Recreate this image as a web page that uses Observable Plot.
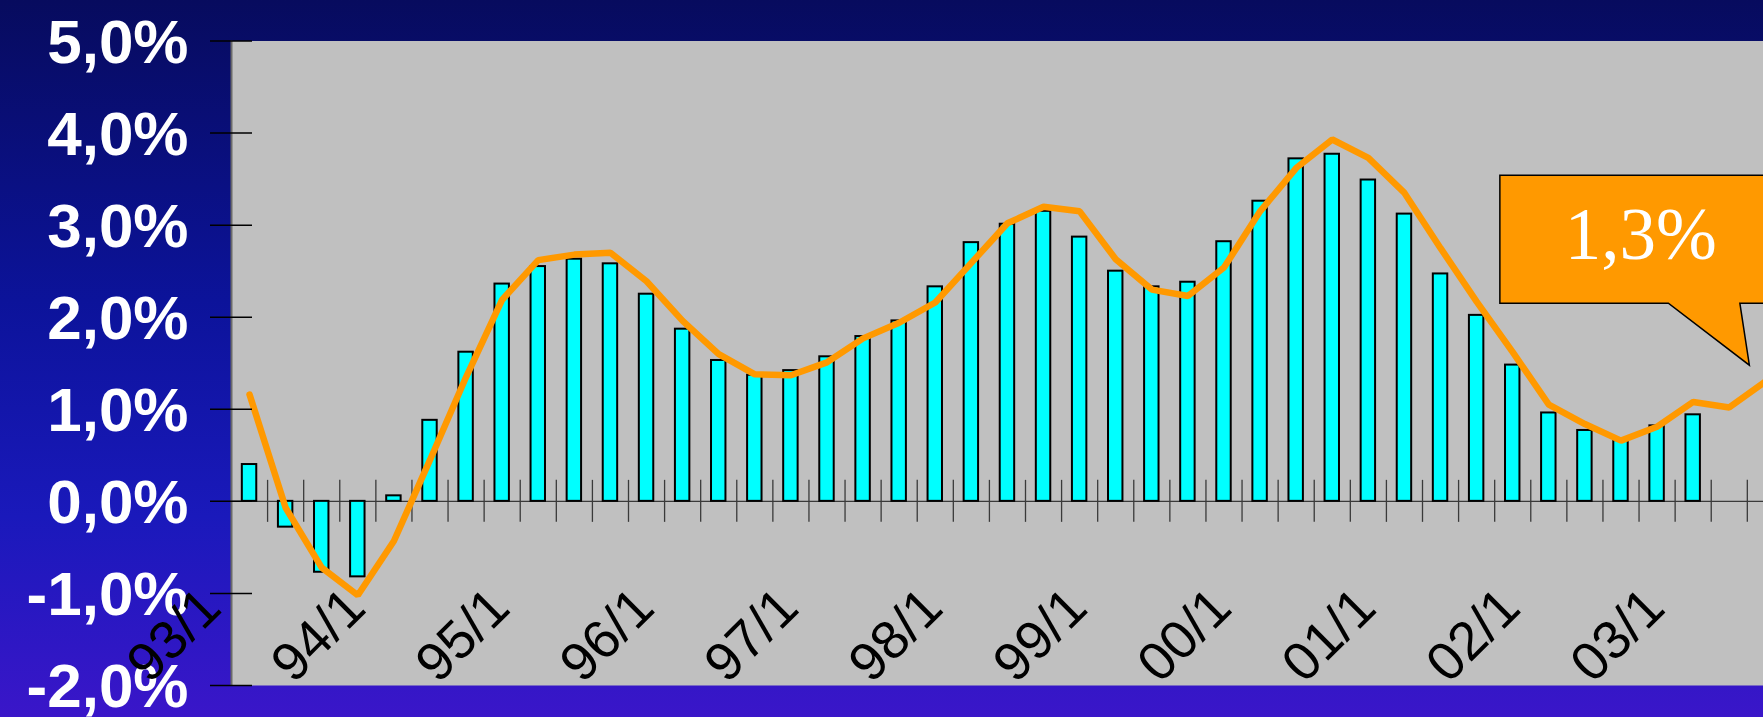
<!DOCTYPE html>
<html>
<head>
<meta charset="utf-8">
<script src="https://cdn.jsdelivr.net/npm/d3@7"></script>
<script src="https://cdn.jsdelivr.net/npm/@observablehq/plot@0.6"></script>
<style>
  html, body {
    margin: 0;
    padding: 0;
    width: 1763px;
    height: 717px;
    overflow: hidden;
    background: linear-gradient(to bottom, #070b5e 0%, #0c139a 42%, #1a19bb 72%, #3a16c9 100%);
  }
  #chart svg { display: block; }
</style>
</head>
<body>
<div id="chart"></div>
<script>
// Quarterly categories 93/1 .. 03/4
const years = ["93", "94", "95", "96", "97", "98", "99", "00", "01", "02", "03"];
const quarterNumbers = [1, 2, 3, 4];
const quarters = years.flatMap(y => quarterNumbers.map(q => `${y}/${q}`));

// Year-on-year change per quarter (bars), 93/1 .. 03/1
const barValues = [
  0.40, -0.28, -0.77, -0.82,
  0.06, 0.88, 1.62, 2.36,
  2.55, 2.63, 2.58, 2.25,
  1.87, 1.53, 1.37, 1.42,
  1.57, 1.79, 1.96, 2.33,
  2.81, 3.01, 3.15, 2.87,
  2.50, 2.33, 2.38, 2.82,
  3.26, 3.72, 3.77, 3.49,
  3.12, 2.47, 2.02, 1.48,
  0.96, 0.77, 0.66, 0.82,
  0.94
];

// Trend series (line), 93/1 .. 03/3
const lineValues = [
  1.16, -0.07, -0.72, -1.02,
  -0.43, 0.45, 1.35, 2.19,
  2.62, 2.68, 2.70, 2.39,
  1.96, 1.60, 1.38, 1.37,
  1.51, 1.77, 1.94, 2.16,
  2.59, 3.02, 3.20, 3.15,
  2.63, 2.30, 2.23, 2.54,
  3.15, 3.62, 3.93, 3.73,
  3.35, 2.75, 2.17, 1.62,
  1.05, 0.84, 0.66, 0.81,
  1.08, 1.02, 1.3
];

// Axis ticks
const yTicks = [-2, -1, 0, 1, 2, 3, 4, 5];
const axisLabels = quarters.filter(q => q.endsWith("/1"));

const bars = barValues.map((value, i) => ({quarter: quarters[i], value}));
const trend = lineValues.map((value, i) => ({quarter: quarters[i], value}));

const W = 1763, H = 717;
const xRange = [231, 1819];
const step = (xRange[1] - xRange[0]) / quarters.length;
const pct = d => d.toFixed(1).replace(".", ",") + "%";
const sans = "'Liberation Sans', Arial, sans-serif";
const serif = "'Liberation Serif', 'Times New Roman', serif";

// Speech-bubble annotation pointing at the latest trend value
function callout(index, scales) {
  const last = trend[trend.length - 1];
  const sx = scales.x, sy = scales.y;
  const bw = typeof sx.bandwidth === "function" ? sx.bandwidth() : (sx.bandwidth ?? 0);
  const px = sx(last.quarter) + bw / 2;
  const py = sy(last.value);
  const g = d3.create("svg:g");
  g.append("path")
    .attr("d", `M${px - 265},${py - 206}H${px + 21}V${py - 78}H${px - 25}L${px - 15.5},${py - 16}L${px - 96.5},${py - 78}H${px - 265}Z`)
    .attr("fill", "#ff9900")
    .attr("stroke", "black")
    .attr("stroke-width", 1.5)
    .attr("stroke-linejoin", "miter");
  g.append("text")
    .attr("x", px - 124)
    .attr("y", py - 122)
    .attr("text-anchor", "middle")
    .attr("fill", "white")
    .attr("font-family", serif)
    .attr("font-size", 73)
    .text(pct(last.value));
  return g.node();
}

const chart = Plot.plot({
  width: W,
  height: H,
  marginLeft: 231,
  marginRight: 0,
  marginTop: 40.5,
  marginBottom: 32,
  style: {background: "transparent"},
  x: {type: "band", domain: quarters, range: xRange, paddingInner: 0.6, paddingOuter: 0.3, round: false, axis: null},
  y: {domain: [-2, 5], label: null},
  marks: [
    Plot.frame({fill: "#c0c0c0", stroke: null}),
    Plot.ruleY([0], {stroke: "#3a3a3a", strokeWidth: 1.3}),
    Plot.ruleX(quarters, {y1: 0, y2: 0, insetTop: -21, insetBottom: -21, dx: step / 2, stroke: "#3a3a3a", strokeWidth: 1.3}),
    Plot.barY(bars, {x: "quarter", y: "value", fill: "#00ffff", stroke: "black", strokeWidth: 2}),
    Plot.line(trend, {x: "quarter", y: "value", stroke: "#ff9900", strokeWidth: 6.5, strokeLinejoin: "miter", strokeLinecap: "round"}),
    Plot.ruleX([quarters[0]], {dx: -step / 2, stroke: "#6a6a6a", strokeWidth: 2}),
    Plot.axisY(yTicks, {tickSize: 42, dx: 21, stroke: "black", strokeWidth: 1.5, tickFormat: () => "", label: null}),
    Plot.axisY(yTicks, {tickSize: 0, tickPadding: 43, dy: 2, color: "white", fill: "white", fontSize: 62, fontWeight: "bold", fontFamily: sans, tickFormat: pct, label: null}),
    Plot.text(axisLabels, {x: d => d, text: d => d, frameAnchor: "bottom", rotate: -45, textAnchor: "end", lineAnchor: "bottom", dx: -26, dy: -75, fontSize: 54, fill: "black", fontFamily: sans}),
    callout
  ]
});

document.getElementById("chart").append(chart);
</script>
</body>
</html>
